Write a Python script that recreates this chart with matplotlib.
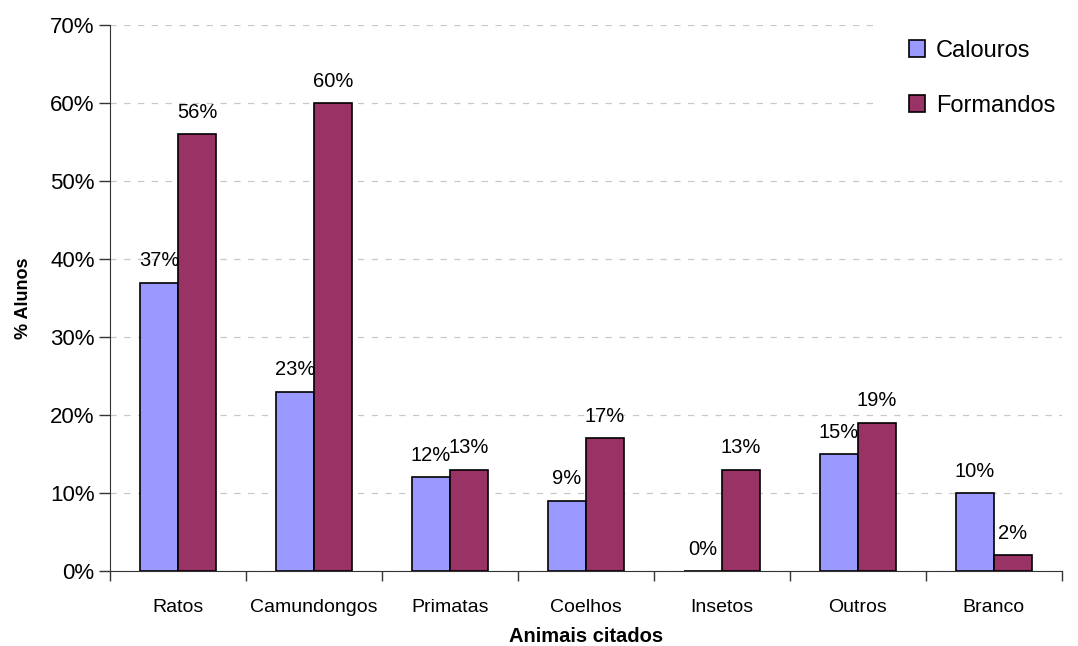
import numpy as np
import matplotlib.pyplot as plt
from matplotlib.patches import Rectangle
from matplotlib.ticker import FuncFormatter, FixedLocator

plt.rcParams['font.family'] = ['Liberation Sans', 'DejaVu Sans']

categorias = ['Ratos', 'Camundongos', 'Primatas', 'Coelhos', 'Insetos', 'Outros', 'Branco']
calouros = [37, 23, 12, 9, 0, 15, 10]
formandos = [56, 60, 13, 17, 13, 19, 2]

fig = plt.figure(figsize=(10.78, 6.46), dpi=100)
ax = fig.add_axes([0.102, 0.116, 0.883, 0.845])

x = np.arange(len(categorias))
larg = 0.28
b1 = ax.bar(x - larg / 2, calouros, larg, color='#9999FF', edgecolor='black', linewidth=1.2,
            label='Calouros', zorder=3)
b2 = ax.bar(x + larg / 2, formandos, larg, color='#993366', edgecolor='black', linewidth=1.2,
            label='Formandos', zorder=3)

for barras in (b1, b2):
    for b in barras:
        ax.annotate(f'{b.get_height():.0f}%', (b.get_x() + b.get_width() / 2, b.get_height()),
                    xytext=(0, 9), textcoords='offset points', ha='center', va='bottom',
                    fontsize=14.5)

ax.set_xlim(-0.5, len(categorias) - 0.5)
ax.set_ylim(0, 70)
ax.set_yticks(range(0, 71, 10))
ax.yaxis.set_major_formatter(FuncFormatter(lambda v, p: f'{v:.0f}%'))
ax.set_xticks(x)
ax.set_xticklabels(categorias)
ax.xaxis.set_minor_locator(FixedLocator(np.arange(-0.5, len(categorias), 1)))
ax.tick_params(axis='x', which='major', length=0, pad=20, labelsize=14)
ax.tick_params(axis='x', which='minor', length=7, width=1, color='#333333')
ax.tick_params(axis='y', length=8, width=1, labelsize=16, pad=3, color='#333333')

ax.set_axisbelow(True)
ax.grid(axis='y', linestyle=(0, (5, 6)), color='#C8C8C8', linewidth=0.9)
for s in ('top', 'right'):
    ax.spines[s].set_visible(False)
for s in ('left', 'bottom'):
    ax.spines[s].set_color('#333333')

ax.set_xlabel('Animais citados', fontsize=14.5, fontweight='bold', labelpad=8)
ax.set_ylabel('% Alunos', fontsize=13, fontweight='bold', labelpad=13)

# fundo branco da legenda (esconde as linhas de grade por trás)
ax.add_patch(Rectangle((0.804, 0.80), 0.25, 0.25, transform=ax.transAxes,
                       facecolor='white', edgecolor='none', zorder=2, clip_on=False))
ax.legend(loc='upper right', frameon=False, fontsize=17, handlelength=0.7,
          handleheight=0.7, labelspacing=1.4, handletextpad=0.45,
          bbox_to_anchor=(1.018, 1.017), borderpad=0.5)

fig.savefig('out.png', dpi=100)
